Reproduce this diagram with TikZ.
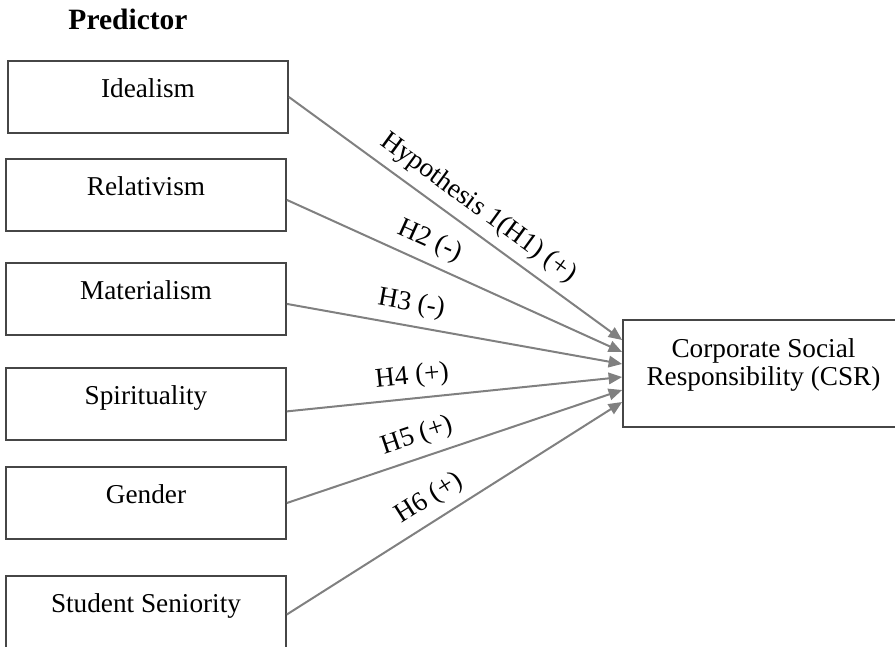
\documentclass[tikz,border=0pt]{standalone}
\usepackage{fontspec}
\setmainfont{Liberation Serif}
\usepackage{tikz}
\usetikzlibrary{arrows.meta}

\definecolor{arrowgray}{RGB}{128,128,128}
\definecolor{boxgray}{RGB}{70,70,70}

\tikzset{
  predbox/.style={draw=boxgray, line width=0.7pt, minimum width=112pt, minimum height=28.8pt,
    inner sep=0pt, text height=1.1em, text depth=1.1em},
  csrbox/.style={draw=boxgray, line width=0.7pt, minimum width=112.4pt, minimum height=42.8pt,
    inner sep=0pt, align=center, text height=13.2pt, text depth=4pt},
  hyp/.style={draw=arrowgray, line width=0.8pt, -{Triangle[length=5.4pt,width=4.6pt]}},
  hlab/.style={above, sloped, text=black}
}

\begin{document}
\begin{tikzpicture}[x=0.4pt, y=-0.4pt, font=\fontsize{10.9}{11.2}\selectfont]
    \useasboundingbox (0,0) rectangle (895,647);
    \node[font=\fontsize{11.8}{13}\selectfont\bfseries] (pred) at (128,19) {Predictor};
    \node[predbox] (ideal) at (148,97) {Idealism};
    \node[predbox] (rel) at (146,195) {Relativism};
    \node[predbox] (mat) at (146,299) {Materialism};
    \node[predbox] (spir) at (146,404) {Spirituality};
    \node[predbox] (gend) at (146,503) {Gender};
    \node[predbox] (stud) at (146,612) {Student Seniority};
    \node[csrbox] (csr) at (763.5,373.5) {Corporate Social\\Responsibility (CSR)};
    \draw[hyp] (ideal.east) -- node[hlab, pos=0.53] {Hypothesis 1(H1) (+)} ([yshift=13.4pt]csr.west);
    \draw[hyp] (rel.-2) -- node[hlab, pos=0.40] {H2 (-)} ([yshift=8.6pt]csr.west);
    \draw[hyp] (mat.-2.5) -- node[hlab, pos=0.36] {H3 (-)} ([yshift=3.8pt]csr.west);
    \draw[hyp] (spir.-3.7) -- node[hlab, pos=0.38] {H4 (+)} ([yshift=-1.4pt]csr.west);
    \draw[hyp] (gend.east) -- node[hlab, pos=0.41] {H5 (+)} ([yshift=-6.6pt]csr.west);
    \draw[hyp] (stud.-1) -- node[hlab, pos=0.46] {H6 (+)} ([yshift=-11.4pt]csr.west);
  \end{tikzpicture}
\end{document}
